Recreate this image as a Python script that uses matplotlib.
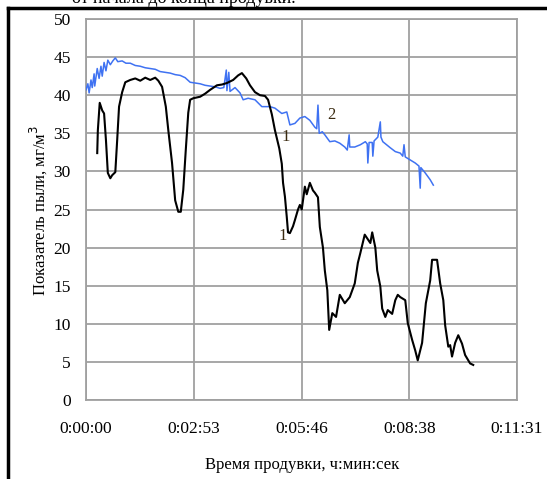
import matplotlib
matplotlib.use('Agg')
import matplotlib.pyplot as plt
from matplotlib.lines import Line2D

plt.rcParams['font.family'] = ['Liberation Serif', 'DejaVu Serif']

# Кривая 1 (чёрная): время, с и показатель пыли
t1 = [18, 19, 22, 26, 29, 32, 35, 39, 42, 47, 50, 53, 58, 63, 71, 79, 87, 95,
      103, 111, 116, 122, 128, 132, 138, 143, 148, 152, 156, 160, 164, 167,
      172, 183, 191, 199, 210, 218, 226, 236, 244, 250, 257, 263, 271, 279,
      287, 292, 298, 303, 310, 314, 316, 319, 322, 324, 327, 332, 335, 340,
      343, 346, 351, 354, 359, 364, 367, 372, 375, 380, 383, 387, 390, 395,
      401, 407, 415, 423, 431, 436, 440, 447, 456, 459, 464, 467, 472, 475,
      480, 484, 491, 496, 500, 504, 512, 516, 523, 528, 532, 539, 545, 552,
      555, 563, 568, 573, 576, 581, 584, 587, 592, 597, 603, 608, 616, 621]
v1 = [32.4, 35.4, 39.0, 38.0, 37.6, 34.1, 29.8, 29.1, 29.5, 29.9, 34.1, 38.5,
      40.4, 41.7, 42.0, 42.2, 41.9, 42.3, 42.0, 42.3, 41.9, 41.1, 38.5, 35.4,
      31.1, 26.2, 24.7, 24.7, 27.6, 32.8, 37.7, 39.4, 39.6, 39.8, 40.2, 40.7,
      41.3, 41.4, 41.6, 42.0, 42.6, 42.9, 42.2, 41.3, 40.4, 40.0, 39.9, 39.4,
      37.5, 35.4, 33.0, 31.0, 28.5, 26.7, 24.0, 22.0, 21.9, 22.8, 23.6, 25.0,
      25.6, 25.0, 28.0, 27.0, 28.5, 27.5, 27.2, 26.6, 22.7, 20.0, 17.0, 14.4,
      9.2, 11.4, 10.9, 13.8, 12.7, 13.5, 15.3, 18.0, 19.3, 21.7, 20.6, 22.0,
      20.0, 17.0, 14.9, 12.0, 10.9, 11.8, 11.3, 13.1, 13.8, 13.5, 13.1, 10.1,
      7.9, 6.5, 5.2, 7.5, 12.7, 15.7, 18.4, 18.4, 15.3, 13.1, 9.8, 7.0, 7.2,
      5.7, 7.5, 8.5, 7.4, 5.9, 4.8, 4.6]

# Кривая 2 (синяя)
t2 = [0, 3, 5, 8, 10, 13, 14, 18, 21, 24, 26, 29, 32, 35, 39, 43, 47, 51,
      58, 64, 71, 79, 87, 95, 103, 111, 119, 127, 135, 143, 151, 159, 167,
      175, 183, 191, 199, 207, 215, 221, 225, 226, 229, 231, 239, 247, 252,
      260, 271, 282, 295, 303, 314, 322, 327, 335, 343, 351, 359, 367, 370,
      372, 374, 379, 383, 391, 399, 407, 415, 419, 422, 423, 431, 440, 448,
      451, 452, 454, 459, 460, 462, 468, 472, 473, 476, 488, 496, 504, 508,
      510, 512, 520, 528, 534, 536, 537, 544, 552, 557]
v2 = [40.7, 41.5, 40.3, 42.0, 41.0, 42.8, 41.2, 43.5, 42.2, 43.8, 42.5, 44.3,
      43.2, 44.6, 44.0, 44.5, 44.9, 44.4, 44.5, 44.2, 44.2, 43.9, 43.8, 43.6,
      43.5, 43.4, 43.1, 43.0, 42.9, 42.7, 42.6, 42.3, 41.7, 41.6, 41.5, 41.3,
      41.2, 41.1, 40.9, 41.0, 43.3, 40.6, 43.0, 40.5, 41.0, 40.3, 39.4, 39.6,
      39.4, 38.5, 38.5, 38.3, 37.6, 37.8, 36.1, 36.3, 37.0, 37.2, 36.7, 35.8,
      35.6, 38.7, 35.0, 35.2, 34.8, 33.9, 34.0, 33.7, 33.2, 32.8, 34.8, 33.2,
      33.2, 33.5, 33.9, 33.6, 31.1, 33.8, 33.8, 32.0, 34.0, 34.5, 36.5, 34.5,
      33.9, 33.1, 32.6, 32.4, 32.0, 33.5, 31.9, 31.5, 31.1, 30.7, 27.8, 30.5,
      29.8, 28.9, 28.2]

x_ticks = [0, 172.8, 345.6, 518.4, 691.2]
x_ticklabels = ['0:00:00', '0:02:53', '0:05:46', '0:08:38', '0:11:31']
y_ticks = list(range(0, 51, 5))

fig = plt.figure(figsize=(5.47, 4.79), dpi=100)
ax = fig.add_axes([86 / 547, 79 / 479, 431 / 547, 381 / 479])

ax.plot(t2, v2, color='#3f72f2', linewidth=1.1, zorder=3)
ax.plot(t1, v1, color='black', linewidth=1.5, zorder=4)

ax.set_xlim(0, 691.2)
ax.set_ylim(0, 50)
ax.set_xticks(x_ticks)
ax.set_xticklabels(x_ticklabels)
ax.set_yticks(y_ticks)
ax.tick_params(length=0, labelsize=12.5)
ax.tick_params(axis='x', pad=15)
ax.tick_params(axis='y', pad=11)
ax.grid(True, color='#a0a0a0', linewidth=1.3)
for s in ax.spines.values():
    s.set_color('#a0a0a0')
    s.set_linewidth(1.3)

# подписи кривых
ax.text(320, 34.5, '1', fontsize=12, color='#3a2a10', ha='center', va='center')
ax.text(316, 21.5, '1', fontsize=12, color='#3a2a10', ha='center', va='center')
ax.text(393, 37.4, '2', fontsize=12, color='#3a2a10', ha='center', va='center')

fig.text(38 / 547, 1 - 210 / 479, 'Показатель пыли, мг/м$^3$', rotation=90,
         fontsize=12, ha='center', va='center')
fig.text(302 / 547, 1 - 465 / 479, 'Время продувки, ч:мин:сек',
         fontsize=12, ha='center', va='center')

# обрывок текста документа (сверху обрезан) и рамка
fig.text(72 / 547, 1 - 3 / 479, 'от начала до конца продувки.', fontsize=13,
         ha='left', va='baseline')
fig.add_artist(Line2D([8 / 547, 1], [1 - 7.5 / 479, 1 - 7.5 / 479],
                      transform=fig.transFigure, color='black', linewidth=2.5))
fig.add_artist(Line2D([8 / 547, 8 / 547], [0, 1 - 7.5 / 479],
                      transform=fig.transFigure, color='black', linewidth=2.5))

fig.savefig('out.png', dpi=100)
